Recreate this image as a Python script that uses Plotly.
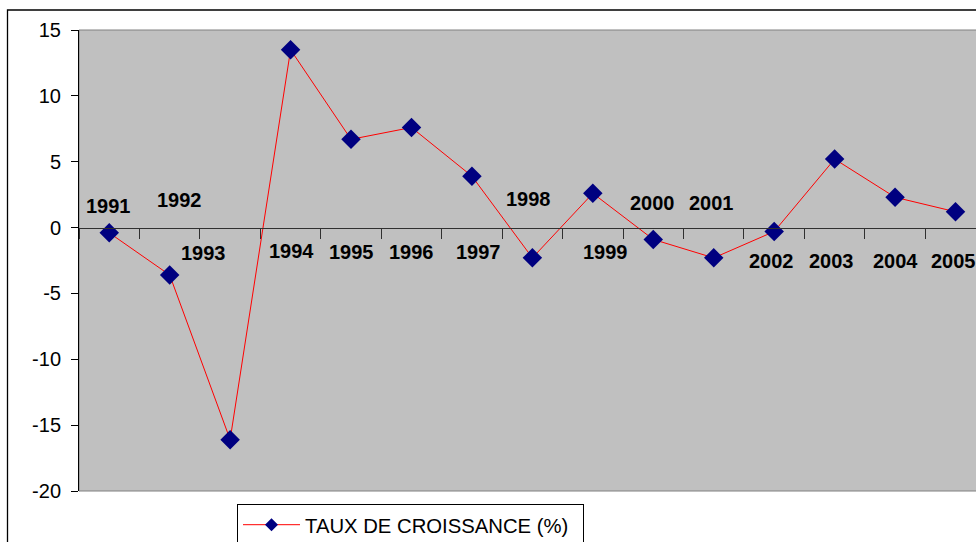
import plotly.graph_objects as go

# ---- data ----
years = ["1991", "1992", "1993", "1994", "1995", "1996", "1997", "1998",
         "1999", "2000", "2001", "2002", "2003", "2004", "2005"]
growth = [-0.4, -3.6, -16.1, 13.5, 6.7, 7.6, 3.9, -2.3,
          2.6, -0.9, -2.3, -0.3, 5.2, 2.3, 1.2]
series_name = "TAUX DE CROISSANCE (%)"
y_ticks = [-20, -15, -10, -5, 0, 5, 10, 15]
y_tick_text = ["-20", "-15", "-10", "-5", "0", "5", "10", "15"]

# label placement (layout only): offset from category centre, y in axis units
label_dx = [-0.015, 0.16, -0.44, 0.02, 0.0, 0.0, 0.11, -0.06,
            0.21, -0.01, -0.03, -0.05, -0.06, 0.0, -0.04]
label_y = [1.67, 2.12, -1.93, -1.8, -1.82, -1.82, -1.82, 2.16,
           -1.82, 1.86, 1.86, -2.5, -2.5, -2.5, -2.5]

FONT = "Arial, Liberation Sans, sans-serif"
W, H = 976, 542
ML, MT, MB = 79, 30, 51
plot_w = W - ML
cat_px = 60.45
x_right = -0.5 + plot_w / cat_px

fig = go.Figure()
fig.add_trace(go.Scatter(
    x=years, y=growth, mode="lines+markers", name=series_name,
    line=dict(color="#FF0000", width=1),
    marker=dict(symbol="diamond", size=15, color="#000080",
                line=dict(width=0)),
    showlegend=False, cliponaxis=False,
))
# legend entry (smaller marker, as in the original)
fig.add_trace(go.Scatter(
    x=[None], y=[None], mode="lines+markers", name=series_name,
    line=dict(color="#FF0000", width=1),
    marker=dict(symbol="diamond", size=10, color="#000080",
                line=dict(width=0)),
    showlegend=True,
))

annotations = []
for i, yr in enumerate(years):
    annotations.append(dict(
        x=i + label_dx[i], y=label_y[i], xref="x", yref="y",
        text=yr, showarrow=False,
        font=dict(family=FONT, size=20, color="black", weight="bold"),
        xanchor="center", yanchor="middle",
    ))

plot_h = H - MT - MB
shapes = [
    # plot area border
    dict(type="rect", xref="paper", yref="paper", x0=0, x1=1.2, y0=0, y1=1,
         line=dict(color="#808080", width=1), layer="below"),
    # outer chart border
    dict(type="rect", xref="paper", yref="paper",
         x0=-(ML - 7.5) / plot_w, x1=1.5,
         y0=-0.5, y1=1 + (MT - 10) / plot_h,
         line=dict(color="black", width=1.3), layer="above"),
]

fig.update_layout(
    width=W, height=H,
    margin=dict(l=ML, r=0, t=MT, b=MB, autoexpand=False),
    paper_bgcolor="white", plot_bgcolor="#C0C0C0",
    font=dict(family=FONT, size=20, color="black"),
    annotations=annotations, shapes=shapes,
    showlegend=True,
    legend=dict(
        xref="container", yref="container",
        x=237 / W, y=1 - 504 / H, xanchor="left", yanchor="top",
        orientation="h", entrywidth=273, entrywidthmode="pixels",
        bgcolor="white", bordercolor="black", borderwidth=1,
        font=dict(family=FONT, size=20.3, color="black"),
        itemwidth=57,
    ),
    xaxis=dict(
        type="category", range=[-0.5, x_right],
        anchor="free", position=20 / 35,
        showline=True, linecolor="#303030", linewidth=1,
        ticks="outside", tickson="boundaries", ticklen=10,
        tickcolor="#303030", tickwidth=1,
        showticklabels=False, showgrid=False, zeroline=False,
    ),
    yaxis=dict(
        range=[-20, 15], tickvals=y_ticks, ticktext=y_tick_text,
        showline=True, linecolor="black", linewidth=1,
        ticks="outside", ticklen=7, tickcolor="black",
        ticklabelstandoff=6,
        tickfont=dict(family=FONT, size=20, color="black"),
        showgrid=False, zeroline=False,
    ),
)

fig.write_html("out.html",
               config={"displayModeBar": False},
               post_script="document.body.style.margin='0px';"
                           "document.body.style.overflow='hidden';")
